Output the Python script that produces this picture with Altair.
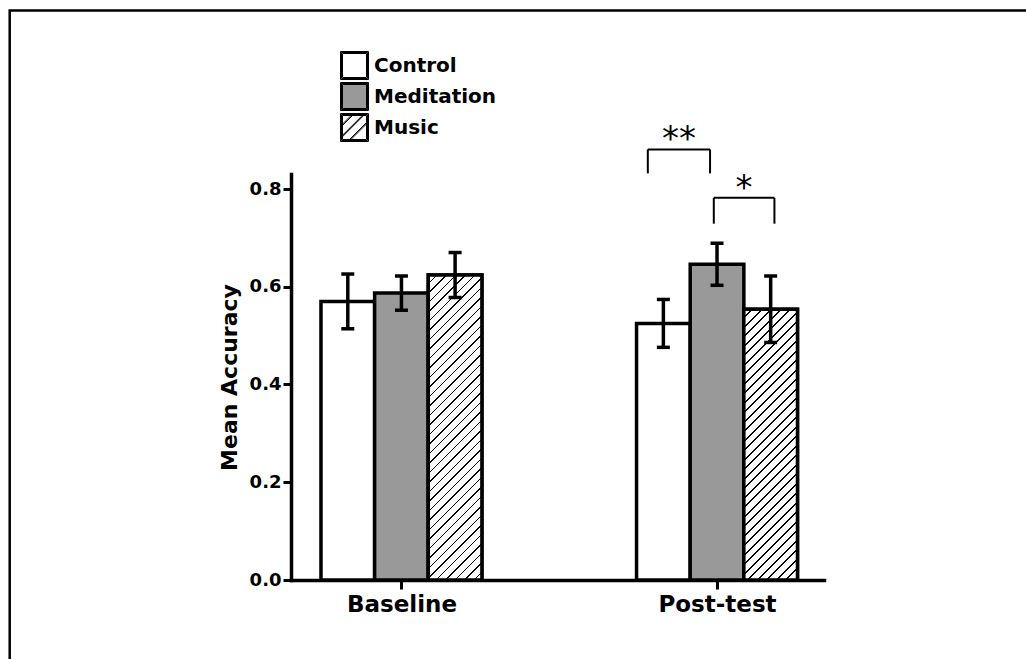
import json
import math

import altair as alt
import pandas as pd

# ---- data -------------------------------------------------------------
categories = ["Baseline", "Post-test"]
groups = ["Control", "Meditation", "Music"]
group_fills = ["#ffffff", "#999999", "#ffffff"]

mean_baseline = [0.570, 0.587, 0.624]
mean_posttest = [0.525, 0.646, 0.554]
sem_baseline = [0.056, 0.035, 0.046]
sem_posttest = [0.049, 0.043, 0.068]

# significance brackets; ends are given in bar widths from the category centre
bracket_category = ["Post-test", "Post-test"]
bracket_from = [-1.29, -0.06]
bracket_to = [-0.13, 1.07]
bracket_top = [0.881, 0.782]
bracket_foot = [0.832, 0.729]
bracket_label = ["**", "*"]

# ---- layout -----------------------------------------------------------
PX_PER_Y = 488.75                 # pixels per accuracy unit
PLOT_W, PLOT_H = 533, 406
Y_MAX = PLOT_H / PX_PER_Y         # the axis line runs a little past 0.8
BAR_W = 0.17                      # bar width, in category spacings
X_DOMAIN = [-0.350, 1.339]
FONT = "DejaVu Sans"
LINE = 3.5

px_per_x = PLOT_W / (X_DOMAIN[1] - X_DOMAIN[0])

rows = []
for ci, cat in enumerate(categories):
    means = mean_baseline if ci == 0 else mean_posttest
    sems = sem_baseline if ci == 0 else sem_posttest
    for gi, grp in enumerate(groups):
        centre = ci + (gi - 1) * BAR_W
        rows.append(dict(category=cat, group=grp, colour=group_fills[gi], centre=centre,
                         left=centre - BAR_W / 2, right=centre + BAR_W / 2,
                         mean=means[gi], lo=means[gi] - sems[gi], hi=means[gi] + sems[gi]))
bars_df = pd.DataFrame(rows)

seg_rows, label_rows = [], []
for cat, a, b, top, foot, lab in zip(bracket_category, bracket_from, bracket_to,
                                     bracket_top, bracket_foot, bracket_label):
    c = categories.index(cat)
    xa, xb = c + a * BAR_W, c + b * BAR_W
    seg_rows += [dict(x=xa, x2=xb, y=top, y2=top),
                 dict(x=xa, x2=xa, y=foot, y2=top),
                 dict(x=xb, x2=xb, y=foot, y2=top)]
    label_rows.append(dict(x=(xa + xb) / 2, y=top, label=lab))
seg_df = pd.DataFrame(seg_rows)
label_df = pd.DataFrame(label_rows)


def hatch_fill(w, h, spacing=9.5, line=1.2):
    """Diagonal '/' hatching as a hard-stop linear gradient for a w x h box."""
    k = (1 / h + 1 / w) / (1 / h ** 2 + 1 / w ** 2)
    n = (w + h) / spacing
    f = line * math.sqrt(2) / spacing
    stops = []
    for i in range(int(math.ceil(n))):
        a = min(i / n, 1.0)
        b = min((i + 1 - f) / n, 1.0)
        c = min((i + 1) / n, 1.0)
        stops += [dict(offset=a, color="#ffffff"), dict(offset=b, color="#ffffff"),
                  dict(offset=b, color="#000000"), dict(offset=c, color="#000000")]
    return dict(gradient="linear", x1=0, y1=0, x2=k / h, y2=k / w, stops=stops)


# legend swatches (unit square, 14 px per unit): a 3 px border built from
# three 1 px outlines, plus doubled diagonal strokes for the hatched one
SWATCH_HALF = 14


def outline(r):
    return f"M{-r:.4f},{-r:.4f}H{r:.4f}V{r:.4f}H{-r:.4f}Z"


def diagonal(c):
    if c <= 0:
        return f"M-1,{c + 1:.3f}L{c + 1:.3f},-1"
    return f"M{c - 1:.3f},1L1,{c - 1:.3f}"


border = " ".join(outline(1 - i / SWATCH_HALF) for i in range(3))
hatch_lines = " ".join(diagonal(c + d) for c in (-1.1, -0.3, 0.5) for d in (0.0, 0.1))
group_shapes = [border, border, border + " " + hatch_lines]

# ---- scales / axes ----------------------------------------------------
x_scale = alt.Scale(domain=X_DOMAIN, nice=False, zero=False)
y_scale = alt.Scale(domain=[0, Y_MAX], nice=False)

x_axis = alt.Axis(
    values=list(range(len(categories))),
    labelExpr=f"{json.dumps(categories)}[datum.value]",
    title=None, grid=False, labelFlush=False,
    domainColor="black", domainWidth=LINE, domainCap="square",
    tickColor="black", tickWidth=3, tickSize=9,
    labelFont=FONT, labelFontSize=23, labelFontWeight="bold", labelColor="black",
    labelPadding=4,
)
y_axis = alt.Axis(
    values=[0, 0.2, 0.4, 0.6, 0.8], format=".1f", grid=False,
    domainColor="black", domainWidth=LINE, domainCap="square",
    tickColor="black", tickWidth=3, tickSize=8,
    labelFont=FONT, labelFontSize=18, labelFontWeight="bold", labelColor="black",
    labelPadding=2,
    title="Mean Accuracy", titleFont=FONT, titleFontSize=22, titleFontWeight="bold",
    titleColor="black", titlePadding=8,
)


def X(field):
    return alt.X(field, type="quantitative", scale=x_scale, axis=x_axis)


def Y(field):
    return alt.Y(field, type="quantitative", scale=y_scale, axis=y_axis)


legend = alt.Legend(
    title=None, orient="none", legendX=49, legendY=-123, padding=0,
    symbolSize=(2 * SWATCH_HALF) ** 2, symbolStrokeWidth=1, symbolStrokeColor="black",
    symbolOpacity=1,
    labelFont=FONT, labelFontSize=20, labelFontWeight="bold", labelColor="black",
    labelOffset=5, rowPadding=-4,
)

# ---- layers -----------------------------------------------------------
bars = alt.Chart(bars_df).mark_bar(stroke="black", strokeWidth=LINE, strokeJoin="miter").encode(
    x=X("left"), x2="right",
    y=Y("mean"), y2=alt.datum(0),
    fill=alt.Fill("colour:N", scale=None),
)

hatched = []
for r in rows:
    if r["group"] != "Music":
        continue
    grad = hatch_fill(BAR_W * px_per_x, r["mean"] * PX_PER_Y)
    hatched.append(
        alt.Chart(bars_df)
        .transform_filter(f"datum.group == 'Music' && datum.category == '{r['category']}'")
        .mark_bar(fill=grad, stroke="black", strokeWidth=LINE, strokeJoin="miter")
        .encode(x=X("left"), x2="right", y=Y("mean"), y2=alt.datum(0))
    )

err_lines = alt.Chart(bars_df).mark_rule(color="black", strokeWidth=LINE).encode(
    x=X("centre"), y=Y("lo"), y2="hi",
)
err_caps = alt.Chart(bars_df).transform_fold(["lo", "hi"], as_=["end", "val"]).mark_tick(
    orient="horizontal", size=13, thickness=3.5, color="black", opacity=1
).encode(x=X("centre"), y=Y("val"))

brackets = alt.Chart(seg_df).mark_rule(color="black", strokeWidth=2).encode(
    x=X("x"), x2="x2", y=Y("y"), y2="y2",
)
stars = alt.Chart(label_df).mark_text(
    font=FONT, fontSize=34, baseline="alphabetic", align="center", dy=1, color="black"
).encode(x=X("x"), y=Y("y"), text="label:N")

# legend carrier: draws nothing, supplies the fill + shape legend
legend_layer = alt.Chart(bars_df).transform_filter("false").mark_point(
    filled=True, opacity=1, stroke="black", strokeWidth=1
).encode(
    x=X("centre"), y=Y("mean"),
    fill=alt.Fill("group:N", scale=alt.Scale(domain=groups, range=group_fills), legend=legend),
    shape=alt.Shape("group:N", scale=alt.Scale(domain=groups, range=group_shapes), legend=legend),
)

frame = alt.Chart(pd.DataFrame({"frame": [0]})).mark_rect(
    filled=False, stroke="black", strokeWidth=2.5
).encode(
    x=alt.value(-281.3), y=alt.value(-163.5),
    x2=alt.value(PLOT_W + 300), y2=alt.value(PLOT_H + 300),
)

chart = alt.layer(
    bars, *hatched, err_lines, err_caps, brackets, stars, legend_layer, frame
).properties(
    width=PLOT_W, height=PLOT_H,
    autosize=alt.AutoSizeParams(type="none"),
    padding={"left": 291, "top": 174, "right": 202, "bottom": 79},
    background="white",
).configure_view(stroke=None)

chart.save("out.html", embed_options={"renderer": "svg", "actions": False})
